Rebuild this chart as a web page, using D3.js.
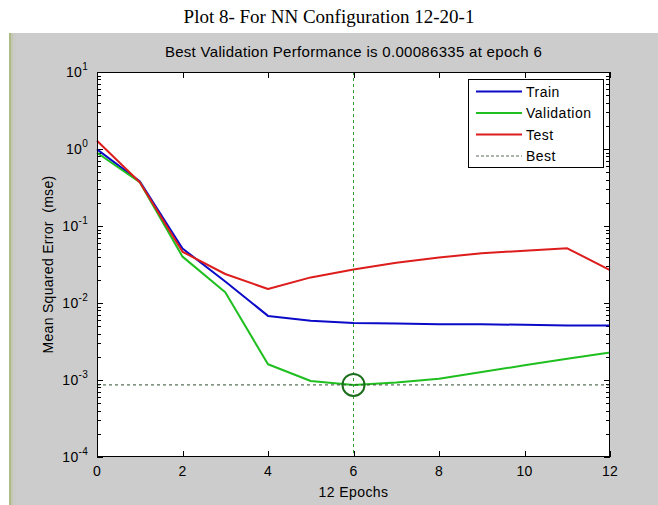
<!DOCTYPE html>
<html>
<head>
<meta charset="utf-8">
<script src="https://cdn.jsdelivr.net/npm/d3@7"></script>
<style>
  html, body { margin: 0; padding: 0; background: #ffffff; }
  svg { display: block; }
  text { font-family: "Liberation Sans", Arial, sans-serif; fill: #000; white-space: pre; }
</style>
</head>
<body>
<svg id="chart" width="658" height="505"></svg>
<script>
// Training record of the 12-20-1 network
const epochs = [0, 1, 2, 3, 4, 5, 6, 7, 8, 9, 10, 11, 12];
const trainMse = [0.99, 0.38, 0.051, 0.019, 0.0068, 0.0059, 0.0055, 0.0054, 0.0053, 0.0053, 0.0052, 0.0051, 0.0051];
const validationMse = [0.895, 0.37, 0.040, 0.0138, 0.0016, 0.00097, 0.00086335, 0.00093, 0.00104, 0.00127, 0.00155, 0.00189, 0.00227];
const testMse = [1.28, 0.37, 0.0463, 0.0238, 0.0152, 0.0215, 0.0273, 0.0334, 0.039, 0.0442, 0.0477, 0.0513, 0.0268];
const bestEpoch = 6;
const bestPerf = 0.00086335;

const xTicks = [0, 2, 4, 6, 8, 10, 12];
const yExponents = [-4, -3, -2, -1, 0, 1];
const seriesNames = ["Train", "Validation", "Test", "Best"];

const svg = d3.select("#chart");

// figure window background
svg.append("rect").attr("x", 9).attr("y", 33).attr("width", 649).attr("height", 472).attr("fill", "#cccccc");
svg.append("rect").attr("x", 9).attr("y", 33).attr("width", 2).attr("height", 472).attr("fill", "#aebb86");
svg.append("rect").attr("x", 11).attr("y", 33).attr("width", 2).attr("height", 472).attr("fill", "#c3c8b4");
svg.append("rect").attr("x", 13).attr("y", 33).attr("width", 3).attr("height", 472).attr("fill", "#cacbc6");

// page heading
svg.append("text")
  .attr("x", 329).attr("y", 23)
  .attr("text-anchor", "middle")
  .style("font-family", "'Liberation Serif', 'Times New Roman', serif")
  .style("font-size", "19px")
  .text("Plot 8- For NN Configuration 12-20-1");

const plotL = 97, plotR = 610, plotT = 72, plotB = 457;
const x = d3.scaleLinear().domain([0, 12]).range([plotL, plotR]);
const y = d3.scaleLog().domain([1e-4, 10]).range([plotB, plotT]);

// axes area
svg.append("rect").attr("x", plotL).attr("y", plotT)
  .attr("width", plotR - plotL).attr("height", plotB - plotT).attr("fill", "#ffffff");

const g = svg.append("g");

// tick marks on all four sides
const majorLen = 6, minorLen = 4;
const yMinor = [];
for (let e = -4; e < 1; e++) for (let m = 2; m <= 9; m++) yMinor.push(m * Math.pow(10, e));

const tickG = g.append("g").attr("stroke", "#000").attr("stroke-width", 1).attr("shape-rendering", "crispEdges");
xTicks.forEach(t => {
  const px = Math.round(x(t)) + 0.5;
  tickG.append("line").attr("x1", px).attr("x2", px).attr("y1", plotB).attr("y2", plotB - majorLen);
  tickG.append("line").attr("x1", px).attr("x2", px).attr("y1", plotT).attr("y2", plotT + majorLen);
});
yExponents.forEach(e => {
  const py = Math.round(y(Math.pow(10, e))) + 0.5;
  tickG.append("line").attr("x1", plotL).attr("x2", plotL + majorLen).attr("y1", py).attr("y2", py);
  tickG.append("line").attr("x1", plotR).attr("x2", plotR - majorLen).attr("y1", py).attr("y2", py);
});
yMinor.forEach(v => {
  const py = Math.round(y(v)) + 0.5;
  tickG.append("line").attr("x1", plotL).attr("x2", plotL + minorLen).attr("y1", py).attr("y2", py);
  tickG.append("line").attr("x1", plotR).attr("x2", plotR - minorLen).attr("y1", py).attr("y2", py);
});

// x tick labels
xTicks.forEach(t => {
  g.append("text").attr("x", x(t)).attr("y", 476)
    .attr("text-anchor", "middle").style("font-size", "14px").style("letter-spacing", "0.3px").text(t);
});

// y tick labels as 10 with a raised exponent
yExponents.forEach(e => {
  const t = g.append("text").attr("x", 88).attr("y", y(Math.pow(10, e)) + 5)
    .attr("text-anchor", "end").style("font-size", "14px").style("letter-spacing", "0.3px");
  t.append("tspan").text("10");
  t.append("tspan").attr("dy", -7).style("font-size", "10px").text(e);
});

// axis titles
svg.append("text").attr("x", x(6)).attr("y", 497)
  .attr("text-anchor", "middle").style("font-size", "14px").style("letter-spacing", "0.4px").text("12 Epochs");
svg.append("text")
  .attr("transform", `translate(53,${(plotT + plotB) / 2}) rotate(-90)`)
  .attr("text-anchor", "middle").style("font-size", "14px").style("letter-spacing", "0.3px")
  .text("Mean Squared Error  (mse)");
svg.append("text").attr("x", (plotL + plotR) / 2).attr("y", 57)
  .attr("text-anchor", "middle").style("font-size", "15px").style("letter-spacing", "0.3px")
  .text(`Best Validation Performance is ${bestPerf} at epoch ${bestEpoch}`);

// performance curves
const colors = { Train: "#0a0ac8", Validation: "#1fbf1f", Test: "#dd1c1c" };
const line = d3.line().x((d, i) => x(epochs[i])).y(d => y(d));
const series = [["Train", trainMse], ["Validation", validationMse], ["Test", testMse]];
series.forEach(([name, vals]) => {
  g.append("path").datum(vals).attr("d", line)
    .attr("fill", "none").attr("stroke", colors[name]).attr("stroke-width", 2)
    .attr("stroke-linejoin", "round");
});

// best epoch markers
g.append("line")
  .attr("x1", x(bestEpoch)).attr("x2", x(bestEpoch)).attr("y1", plotT).attr("y2", plotB)
  .attr("stroke", "#2f9a2f").attr("stroke-width", 1).attr("stroke-dasharray", "3,3");
g.append("line")
  .attr("x1", plotL).attr("x2", plotR).attr("y1", y(bestPerf)).attr("y2", y(bestPerf))
  .attr("stroke", "#2f4f2f").attr("stroke-width", 1).attr("stroke-dasharray", "3,3");
g.append("circle")
  .attr("cx", x(bestEpoch)).attr("cy", y(bestPerf)).attr("r", 11)
  .attr("fill", "none").attr("stroke", "#1c6e1c").attr("stroke-width", 2);

// axes box
svg.append("rect").attr("x", plotL + 0.5).attr("y", plotT + 0.5)
  .attr("width", plotR - plotL - 1).attr("height", plotB - plotT - 1)
  .attr("fill", "none").attr("stroke", "#000").attr("stroke-width", 1);

// legend
const lg = svg.append("g");
lg.append("rect").attr("x", 468.5).attr("y", 79.5).attr("width", 135).attr("height", 88)
  .attr("fill", "#ffffff").attr("stroke", "#000").attr("stroke-width", 1);
seriesNames.forEach((name, i) => {
  const ly = 91.5 + i * 21.5;
  const ln = lg.append("line").attr("x1", 476).attr("x2", 522).attr("y1", ly).attr("y2", ly);
  if (name === "Best") {
    ln.attr("stroke", "#5a6a5a").attr("stroke-width", 1).attr("stroke-dasharray", "3,2");
  } else {
    ln.attr("stroke", colors[name]).attr("stroke-width", 2);
  }
  lg.append("text").attr("x", 526).attr("y", ly + 5)
    .style("font-size", "14px").style("letter-spacing", "0.5px").text(name);
});
</script>
</body>
</html>
